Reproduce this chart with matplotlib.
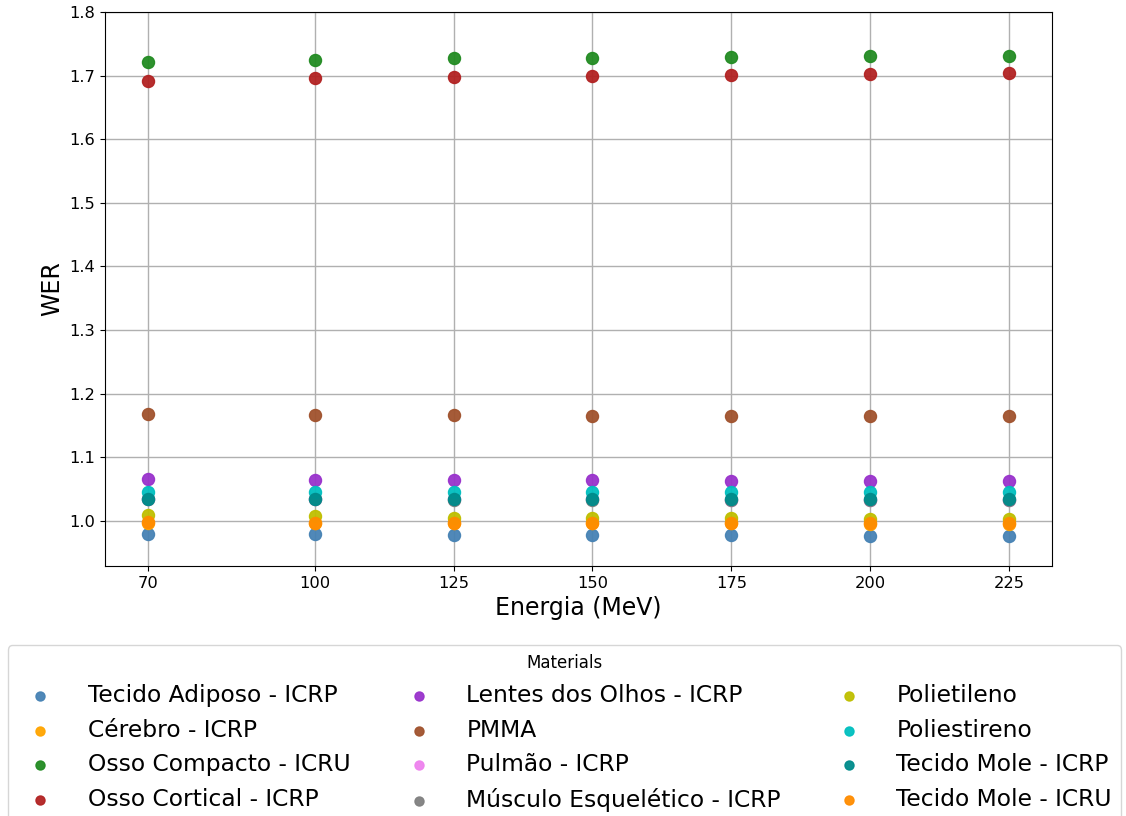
import matplotlib
matplotlib.use("Agg")
import matplotlib.pyplot as plt

energias = [70, 100, 125, 150, 175, 200, 225]

materiais = [
    "Tecido Adiposo - ICRP", "Cérebro - ICRP", "Osso Compacto - ICRU",
    "Osso Cortical - ICRP", "Lentes dos Olhos - ICRP", "PMMA",
    "Pulmão - ICRP", "Músculo Esquelético - ICRP", "Polietileno",
    "Poliestireno", "Tecido Mole - ICRP", "Tecido Mole - ICRU",
]
cores = [
    "steelblue", "orange", "forestgreen", "firebrick", "darkorchid", "sienna",
    "violet", "gray", "y", "c", "darkcyan", "darkorange",
]

tecido_adiposo = [0.980, 0.979, 0.978, 0.977, 0.977, 0.976, 0.976]
cerebro = [0.997, 0.997, 0.996, 0.996, 0.996, 0.995, 0.995]
osso_compacto = [1.722, 1.725, 1.727, 1.728, 1.729, 1.730, 1.730]
osso_cortical = [1.692, 1.696, 1.698, 1.700, 1.701, 1.703, 1.704]
lentes = [1.065, 1.064, 1.064, 1.064, 1.063, 1.063, 1.063]
pmma = [1.168, 1.167, 1.166, 1.165, 1.165, 1.164, 1.164]
pulmao = [1.035, 1.034, 1.034, 1.034, 1.033, 1.033, 1.033]
musculo = [1.034, 1.034, 1.033, 1.033, 1.033, 1.032, 1.032]
polietileno = [1.009, 1.008, 1.005, 1.004, 1.004, 1.003, 1.003]
poliestireno = [1.046, 1.046, 1.045, 1.045, 1.045, 1.045, 1.045]
tecido_mole_icrp = [1.035, 1.035, 1.034, 1.034, 1.034, 1.034, 1.034]
tecido_mole_icru = [0.998, 0.997, 0.997, 0.997, 0.996, 0.996, 0.996]

series = [tecido_adiposo, cerebro, osso_compacto, osso_cortical, lentes, pmma,
          pulmao, musculo, polietileno, poliestireno, tecido_mole_icrp,
          tecido_mole_icru]

fig = plt.figure(figsize=(11.26, 8.16), dpi=100)
ax = fig.add_axes([0.0933, 0.3064, 0.841, 0.679])

for nome, cor, vals in zip(materiais, cores, series):
    ax.scatter(energias, vals, color=cor, s=75, label=nome, zorder=3,
               alpha=0.95)

ax.set_ylim(0.929, 1.8)
ax.set_xticks(energias)
ax.tick_params(labelsize=11.7)
ax.grid(True, color="#b0b0b0", linewidth=1.0)
ax.set_axisbelow(True)
ax.set_xlabel("Energia (MeV)", fontsize=17)
ax.set_ylabel("WER", fontsize=17)

handles, labels = ax.get_legend_handles_labels()
leg = fig.legend(handles, labels, title="Materials", ncol=3, fontsize=16.8,
                 title_fontsize=12, loc="upper center",
                 bbox_to_anchor=(0.5013, 0.2096), markerscale=0.75,
                 handletextpad=1.05, columnspacing=1.9,
                 borderaxespad=0.0)

fig.savefig("out.png", dpi=100)
